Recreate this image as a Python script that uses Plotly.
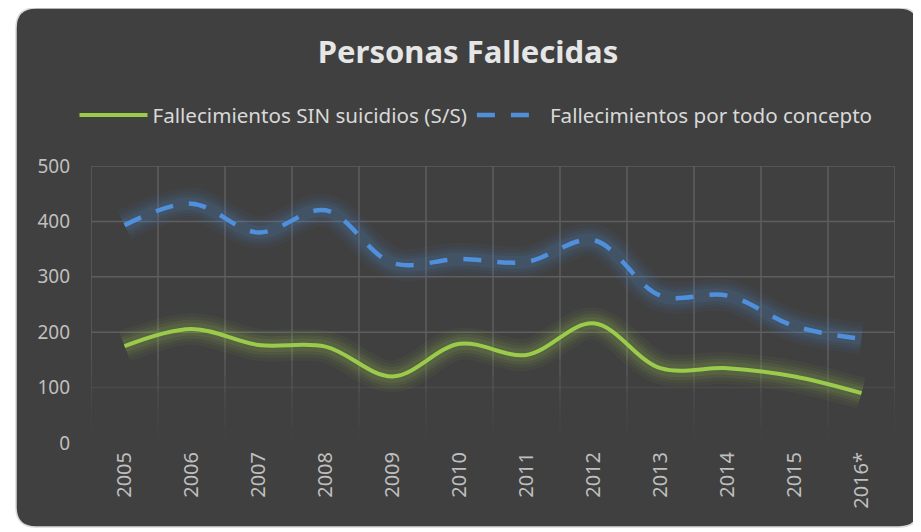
import plotly.graph_objects as go

years = ["2005", "2006", "2007", "2008", "2009", "2010", "2011", "2012", "2013", "2014", "2015", "2016*"]
sin_suicidios = [175, 206, 177, 174, 120, 179, 159, 216, 135, 135, 120, 90]
todo_concepto = [393, 432, 380, 420, 325, 332, 327, 366, 266, 266, 211, 188]
y_ticks = [0, 100, 200, 300, 400, 500]

GREEN = "#9BCB4B"
BLUE = "#4F8FDB"
FONT = "Noto Sans"
GRID = "#5e5e5e"

# page offset (body margin) compensation
OFF = 8
W, H = 921 - OFF, 532 - OFF
# plot area in page pixels
PL, PR, PT, PB = 91, 895, 166, 443
L, R, T, B = PL - OFF, W - (PR - OFF), PT - OFF, H - (PB - OFF)
pw, ph = W - L - R, H - T - B


def px(x):
    return (x - PL) / pw


def py(y):
    return (PB - y) / ph


fig = go.Figure()

# glow layers
for w, a in [(32, 0.05), (25, 0.06), (19, 0.08), (13, 0.10)]:
    fig.add_trace(go.Scatter(x=years, y=todo_concepto, mode="lines",
                             line=dict(color=f"rgba(79,143,219,{a})", width=w, shape="spline"),
                             showlegend=False, hoverinfo="skip"))
    fig.add_trace(go.Scatter(x=years, y=sin_suicidios, mode="lines",
                             line=dict(color=f"rgba(155,203,75,{a})", width=w, shape="spline"),
                             showlegend=False, hoverinfo="skip"))

fig.add_trace(go.Scatter(x=years, y=sin_suicidios, mode="lines",
                         name="Fallecimientos SIN suicidios (S/S)",
                         line=dict(color=GREEN, width=4, shape="spline")))
fig.add_trace(go.Scatter(x=years, y=todo_concepto, mode="lines",
                         name="Fallecimientos por todo concepto",
                         line=dict(color=BLUE, width=4.5, shape="spline", dash="18px,16px")))

# rounded dark panel
x0, x1, y0, y1 = px(16), px(919), py(527), py(8)
rx, ry = 20 / pw, 20 / ph
path = (f"M {x0+rx},{y1} L {x1-rx},{y1} Q {x1},{y1} {x1},{y1-ry} "
        f"L {x1},{y0+ry} Q {x1},{y0} {x1-rx},{y0} L {x0+rx},{y0} "
        f"Q {x0},{y0} {x0},{y0+ry} L {x0},{y1-ry} Q {x0},{y1} {x0+rx},{y1} Z")
fig.add_shape(type="path", path=path, xref="paper", yref="paper",
              fillcolor="#404040", line=dict(color="#d9d9d9", width=1.5), layer="below")

# horizontal gridlines (fading towards the bottom)
for v in y_ticks:
    op = 1.0 if v >= 200 else (0.35 if v == 100 else 0.0)
    if op > 0:
        fig.add_shape(type="line", xref="paper", yref="y", x0=0, x1=1, y0=v, y1=v,
                      line=dict(color=GRID, width=1.5), opacity=op, layer="below")

# vertical gridlines at category boundaries, fading near the bottom
segs = [(150, 500, 1.0), (120, 150, 0.8), (90, 120, 0.55), (60, 90, 0.35), (30, 60, 0.18), (0, 30, 0.06)]
for i in range(len(years) + 1):
    for s0, s1, op in segs:
        fig.add_shape(type="line", xref="x", yref="y", x0=i - 0.5, x1=i - 0.5, y0=s0, y1=s1,
                      line=dict(color=GRID, width=1.5), opacity=op, layer="below")

fig.update_layout(
    width=W, height=H,
    margin=dict(l=L, r=R, t=T, b=B),
    paper_bgcolor="white",
    plot_bgcolor="rgba(0,0,0,0)",
    title=dict(text="<b>Personas Fallecidas</b>", x=(468 - OFF) / W, xanchor="center",
               y=1 - (52 - OFF) / H, yanchor="middle",
               font=dict(family=FONT, size=31, color="#e6e6e6")),
    legend=dict(orientation="h", x=px(476), xanchor="center", y=py(115), yanchor="middle",
                font=dict(family=FONT, size=20.6, color="#d9d9d9"),
                bgcolor="rgba(0,0,0,0)", itemwidth=68, tracegroupgap=0),
    showlegend=True,
    xaxis=dict(type="category", tickangle=-90, showgrid=False, zeroline=False,
               tickfont=dict(family=FONT, size=20, color="#bfbfbf"),
               ticks="", showline=False, range=[-0.5, 11.5], ticklabelstandoff=4),
    yaxis=dict(range=[0, 500], tickvals=y_ticks, showgrid=False, zeroline=False, showline=False,
               tickfont=dict(family=FONT, size=19, color="#bfbfbf"),
               ticklabelstandoff=20),
)

fig.write_html("out.html")
